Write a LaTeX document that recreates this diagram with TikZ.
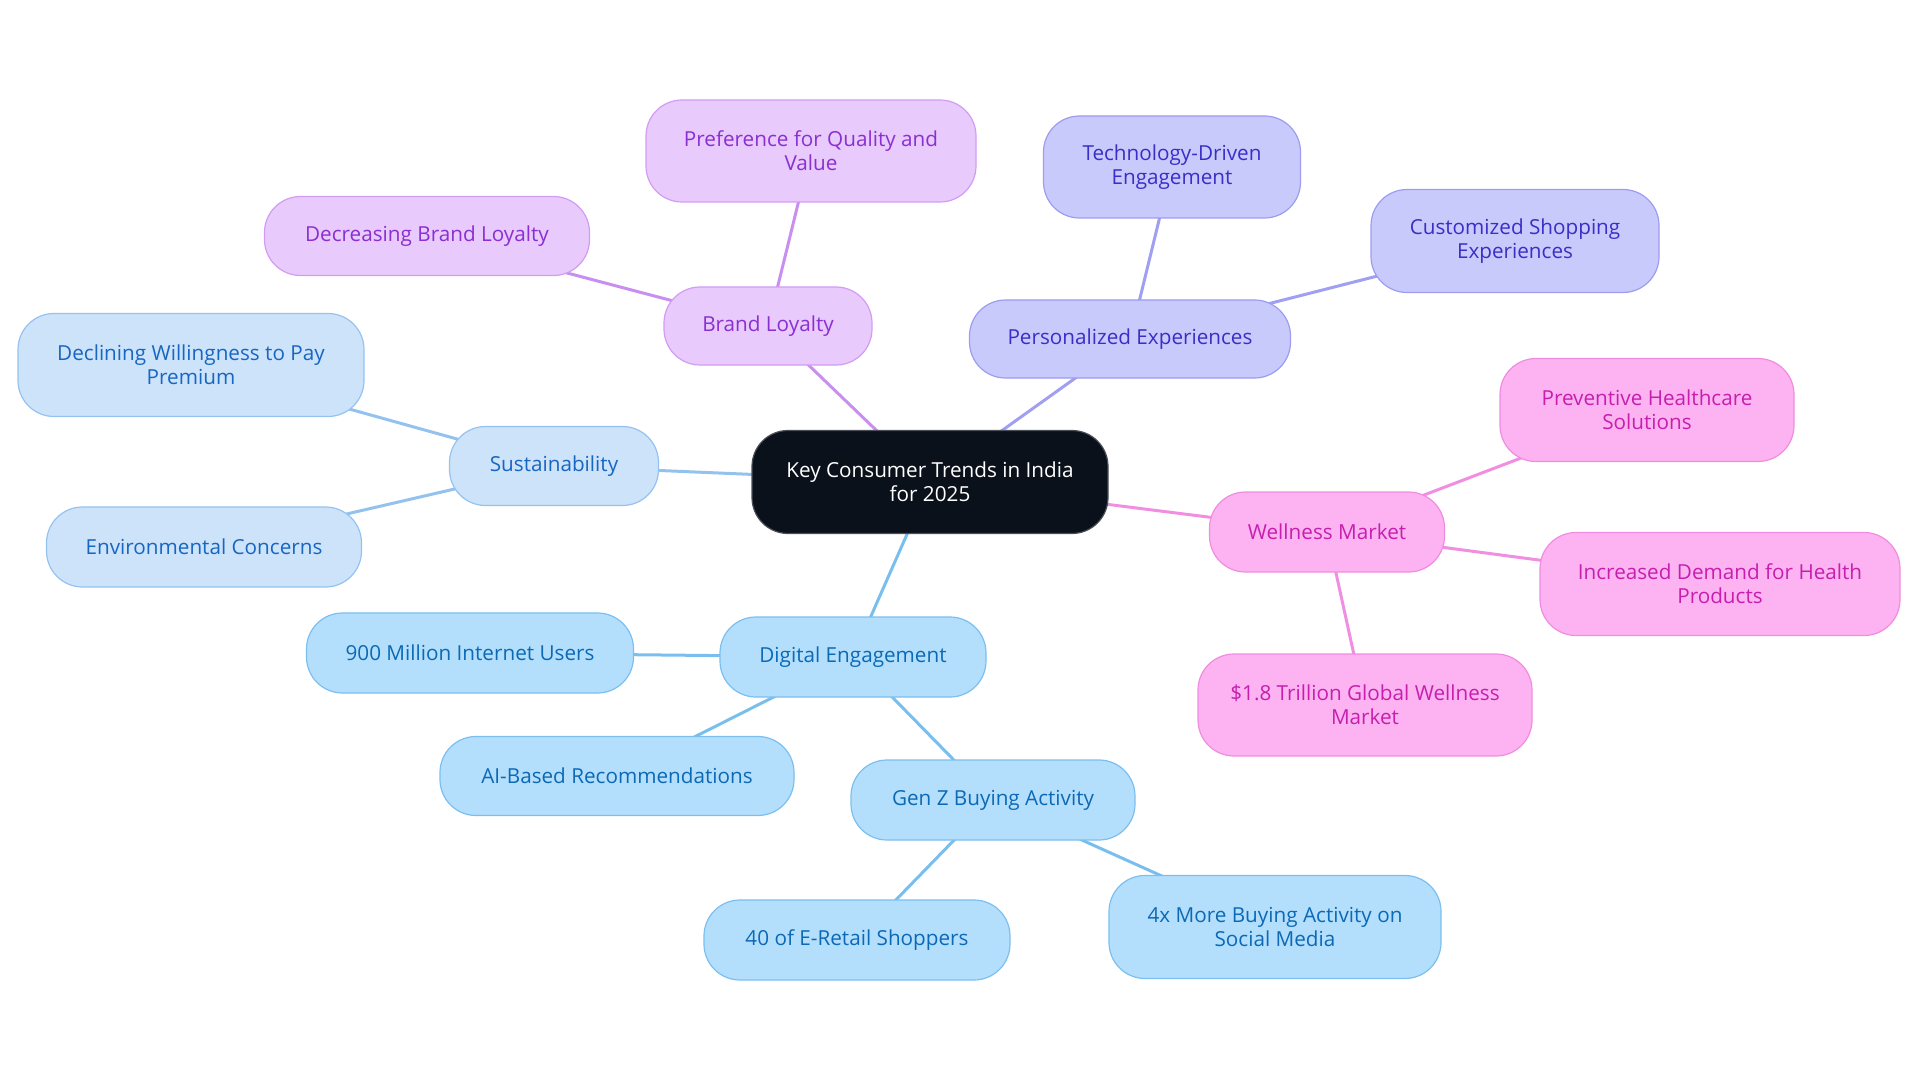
\documentclass[tikz,border=0pt]{standalone}
\usepackage{fontspec}
\setmainfont{Open Sans}
\usetikzlibrary{backgrounds}
\definecolor{cfill}{HTML}{0B111B}
\definecolor{cbord}{HTML}{4A4F57}
\definecolor{pfill}{HTML}{E8CAFC}
\definecolor{ptext}{HTML}{8A2FD2}
\definecolor{pbord}{HTML}{D29CF2}
\definecolor{pline}{HTML}{C98FF0}
\definecolor{ifill}{HTML}{C9CAFC}
\definecolor{itext}{HTML}{3A2EC6}
\definecolor{ibord}{HTML}{9C9CF0}
\definecolor{iline}{HTML}{A09FF2}
\definecolor{wfill}{HTML}{FDB3F2}
\definecolor{wtext}{HTML}{C61FAE}
\definecolor{wbord}{HTML}{F08CE0}
\definecolor{wline}{HTML}{F08FE0}
\definecolor{sfill}{HTML}{CDE3FA}
\definecolor{stext}{HTML}{1766C2}
\definecolor{sbord}{HTML}{95C2F0}
\definecolor{sline}{HTML}{93C2EE}
\definecolor{dfill}{HTML}{B4DFFC}
\definecolor{dtext}{HTML}{0B69B6}
\definecolor{dbord}{HTML}{7BBFF0}
\definecolor{dline}{HTML}{79BFEE}
\tikzset{
  box/.style={rounded corners=36pt, line width=1.2pt, align=center, inner sep=0pt,
    font=\fontsize{20.7pt}{24pt}\selectfont},
  central/.style={box, fill=cfill, draw=cbord, text=white},
  pbox/.style={box, fill=pfill, draw=pbord, text=ptext},
  ibox/.style={box, fill=ifill, draw=ibord, text=itext},
  wbox/.style={box, fill=wfill, draw=wbord, text=wtext},
  sbox/.style={box, fill=sfill, draw=sbord, text=stext},
  dbox/.style={box, fill=dfill, draw=dbord, text=dtext},
  edge/.style={line width=3pt},
}
\begin{document}
\begin{tikzpicture}[x=1pt,y=-1pt]
\useasboundingbox (0,0) rectangle (1920,1083);
\node[central, minimum width=356pt, minimum height=103pt] (c) at (930,482) {Key Consumer Trends in India\\for 2025};
% Brand loyalty
\node[pbox, minimum width=208pt, minimum height=78pt] (bl) at (768,326) {Brand Loyalty};
\node[pbox, minimum width=330pt, minimum height=102pt] (pq) at (811,151) {Preference for Quality and\\Value};
\node[pbox, minimum width=325pt, minimum height=79pt] (db) at (427,236) {Decreasing Brand Loyalty};
% Personalized
\node[ibox, minimum width=321pt, minimum height=78pt] (pe) at (1130,339) {Personalized Experiences};
\node[ibox, minimum width=257pt, minimum height=102pt] (td) at (1172,167) {Technology-Driven\\Engagement};
\node[ibox, minimum width=288pt, minimum height=103pt] (cs) at (1515,241) {Customized Shopping\\Experiences};
% Sustainability
\node[sbox, minimum width=209pt, minimum height=79pt] (su) at (554,466) {Sustainability};
\node[sbox, minimum width=346pt, minimum height=103pt] (dw) at (191,365) {Declining Willingness to Pay\\Premium};
\node[sbox, minimum width=315pt, minimum height=80pt] (ec) at (204,547) {Environmental Concerns};
% Wellness
\node[wbox, minimum width=235pt, minimum height=80pt] (wm) at (1327,532) {Wellness Market};
\node[wbox, minimum width=294pt, minimum height=103pt] (ph) at (1647,410) {Preventive Healthcare\\Solutions};
\node[wbox, minimum width=360pt, minimum height=103pt] (id) at (1720,584) {Increased Demand for Health\\Products};
\node[wbox, minimum width=334pt, minimum height=102pt] (tg) at (1365,705) {\$1.8 Trillion Global Wellness\\Market};
% Digital
\node[dbox, minimum width=266pt, minimum height=80pt] (de) at (853,657) {Digital Engagement};
\node[dbox, minimum width=327pt, minimum height=80pt] (mu) at (470,653) {900 Million Internet Users};
\node[dbox, minimum width=354pt, minimum height=79pt] (ai) at (617,776) {AI-Based Recommendations};
\node[dbox, minimum width=284pt, minimum height=80pt] (gz) at (993,800) {Gen Z Buying Activity};
\node[dbox, minimum width=306pt, minimum height=80pt] (er) at (857,940) {40 of E-Retail Shoppers};
\node[dbox, minimum width=332pt, minimum height=103pt] (sm) at (1275,927) {4x More Buying Activity on\\Social Media};
\begin{scope}[on background layer]
\draw[edge, pline] (c.center) -- (bl.center);
\draw[edge, pline] (bl.center) -- (pq.center);
\draw[edge, pline] (bl.center) -- (db.center);
\draw[edge, iline] (c.center) -- (pe.center);
\draw[edge, iline] (pe.center) -- (td.center);
\draw[edge, iline] (pe.center) -- (cs.center);
\draw[edge, sline] (c.center) -- (su.center);
\draw[edge, sline] (su.center) -- (dw.center);
\draw[edge, sline] (su.center) -- (ec.center);
\draw[edge, wline] (c.center) -- (wm.center);
\draw[edge, wline] (wm.center) -- (ph.center);
\draw[edge, wline] (wm.center) -- (id.center);
\draw[edge, wline] (wm.center) -- (tg.center);
\draw[edge, dline] (c.center) -- (de.center);
\draw[edge, dline] (de.center) -- (mu.center);
\draw[edge, dline] (de.center) -- (ai.center);
\draw[edge, dline] (de.center) -- (gz.center);
\draw[edge, dline] (gz.center) -- (er.center);
\draw[edge, dline] (gz.center) -- (sm.center);
\end{scope}
\end{tikzpicture}
\end{document}
